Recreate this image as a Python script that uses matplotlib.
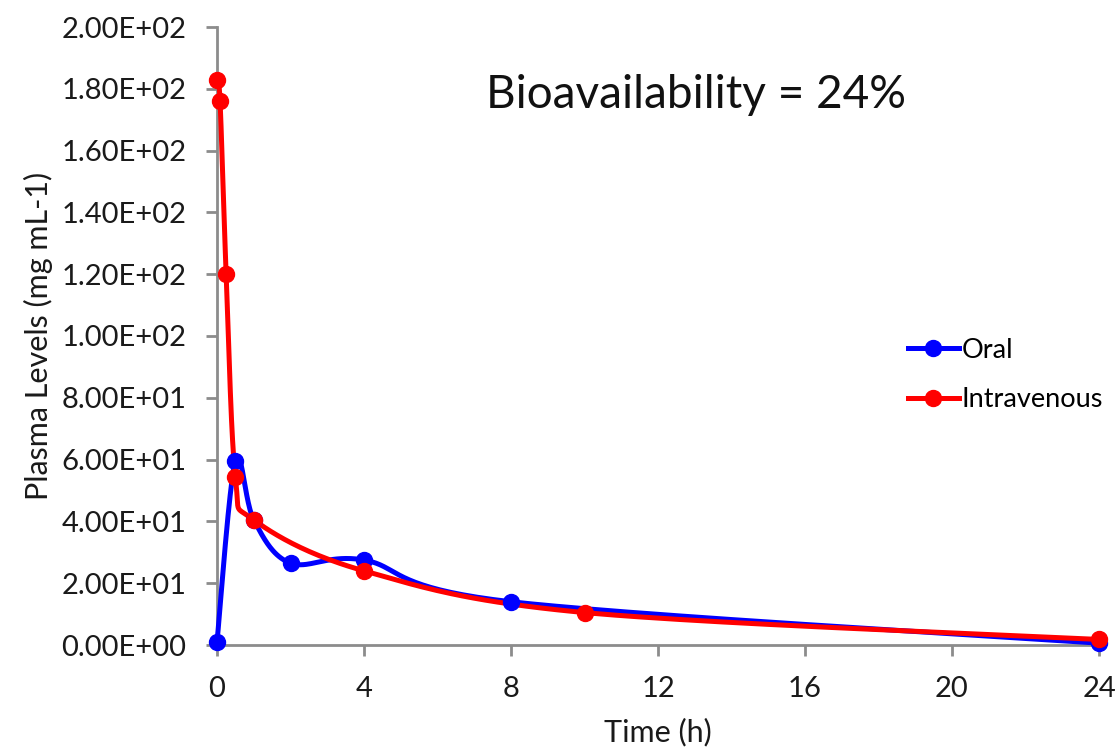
import numpy as np
import matplotlib
matplotlib.use('Agg')
import matplotlib.pyplot as plt
from matplotlib.ticker import FuncFormatter

plt.rcParams['font.family'] = ['Lato', 'DejaVu Sans']

# data
oral_t = [0, 0.5, 1, 2, 4, 8, 24]
oral_c = [1.0, 59.5, 40.5, 26.5, 27.5, 14.0, 0.6]
iv_t = [0, 0.083, 0.25, 0.5, 1, 4, 10, 24]
iv_c = [183.0, 176.0, 120.0, 54.5, 40.5, 24.0, 10.5, 1.8]


def smooth(x, y, n=40):
    # Excel-style smoothed line (cardinal bezier through the points)
    x = np.asarray(x, float)
    y = np.asarray(y, float)
    px = np.concatenate([[x[0]], x, [x[-1]]])
    py = np.concatenate([[y[0]], y, [y[-1]]])
    xs, ys = [], []
    s = np.linspace(0, 1, n)
    for i in range(1, len(px) - 2):
        p0 = np.array([px[i], py[i]])
        p3 = np.array([px[i + 1], py[i + 1]])
        p1 = p0 + (np.array([px[i + 1], py[i + 1]]) - np.array([px[i - 1], py[i - 1]])) / 6
        p2 = p3 - (np.array([px[i + 2], py[i + 2]]) - np.array([px[i], py[i]])) / 6
        b = ((1 - s) ** 3)[:, None] * p0 + (3 * (1 - s) ** 2 * s)[:, None] * p1 \
            + (3 * (1 - s) * s ** 2)[:, None] * p2 + (s ** 3)[:, None] * p3
        xs.extend(b[:, 0])
        ys.extend(b[:, 1])
    return xs, ys


fig = plt.figure(figsize=(11.2, 7.55), dpi=100)
ax = fig.add_axes([217 / 1120, 1 - 645 / 755, (1099 - 217) / 1120, (645 - 27) / 755])

for t, c, col, lab in [(oral_t, oral_c, '#0000ff', 'Oral'), (iv_t, iv_c, '#ff0000', 'Intravenous')]:
    sx, sy = smooth(t, c)
    ax.plot(sx, sy, color=col, lw=3.6, solid_capstyle='round', zorder=3, clip_on=False)
    ax.plot(t, c, 'o', color=col, ms=11.5, zorder=4, clip_on=False)
    ax.plot([], [], '-o', color=col, lw=3.6, ms=11.5, label=lab)

ax.set_xlim(0, 24)
ax.set_ylim(0, 200)
ax.set_xticks([0, 4, 8, 12, 16, 20, 24])
ax.set_yticks(np.arange(0, 201, 20))
ax.yaxis.set_major_formatter(FuncFormatter(lambda v, p: '%.2E' % v))

for s in ['top', 'right']:
    ax.spines[s].set_visible(False)
for s in ['left', 'bottom']:
    ax.spines[s].set_color('#8c8c8c')
    ax.spines[s].set_linewidth(2)
ax.tick_params(colors='#8c8c8c', width=2, length=8, labelsize=21, labelcolor='#1a1a1a')
ax.tick_params(axis='y', pad=14)
ax.tick_params(axis='x', pad=14)

ax.set_xlabel('Time (h)', fontsize=22, color='#1a1a1a', labelpad=12)
ax.set_ylabel('Plasma Levels (mg mL-1)', fontsize=22, color='#1a1a1a', labelpad=6)

ax.text(0.543, 0.89, 'Bioavailability = 24%', transform=ax.transAxes,
        ha='center', va='center', fontsize=33, color='#111111')

leg = ax.legend(loc='center left', bbox_to_anchor=(0.783, 0.437), frameon=False,
                fontsize=19.5, handlelength=1.9, handletextpad=0.1, labelspacing=0.9,
                borderpad=0, borderaxespad=0)

fig.savefig('out.png', dpi=100)
